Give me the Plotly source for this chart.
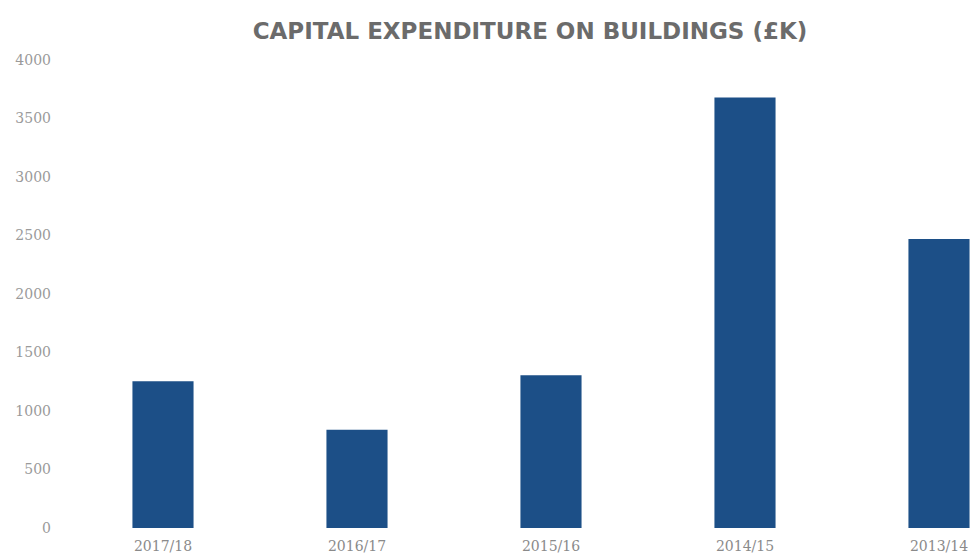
import plotly.graph_objects as go

categories = ["2017/18", "2016/17", "2015/16", "2014/15", "2013/14"]
values = [1255, 840, 1305, 3680, 2470]
y_ticks = [0, 500, 1000, 1500, 2000, 2500, 3000, 3500, 4000]

fig = go.Figure(go.Bar(x=categories, y=values, marker=dict(color="#1c4f87", line=dict(width=0)), width=0.315))

fig.update_layout(
    width=971, height=555,
    margin=dict(l=66, r=0, t=60, b=27),
    paper_bgcolor="white", plot_bgcolor="white",
    title=dict(text="<b>CAPITAL EXPENDITURE ON BUILDINGS (£K)</b>", x=530/971, xanchor="center", xref="container",
               y=1 - 31/555, yanchor="middle", yref="container",
               font=dict(family="DejaVu Sans", size=23, color="#6b6b6b")),
    showlegend=False,
    bargap=0.68,
)
fig.update_xaxes(range=[-0.5, 4.165], showgrid=False, showline=False, zeroline=False, ticks="",
                 ticklabelstandoff=8,
                 tickfont=dict(family="DejaVu Serif", size=14, color="#8a8a8a"))
fig.update_yaxes(range=[0, 4000], tickvals=y_ticks, showgrid=False, showline=False, zeroline=False, ticks="",
                 ticklabelstandoff=14,
                 tickfont=dict(family="DejaVu Serif", size=14, color="#9a9a9a"))

fig.write_html("out.html")
